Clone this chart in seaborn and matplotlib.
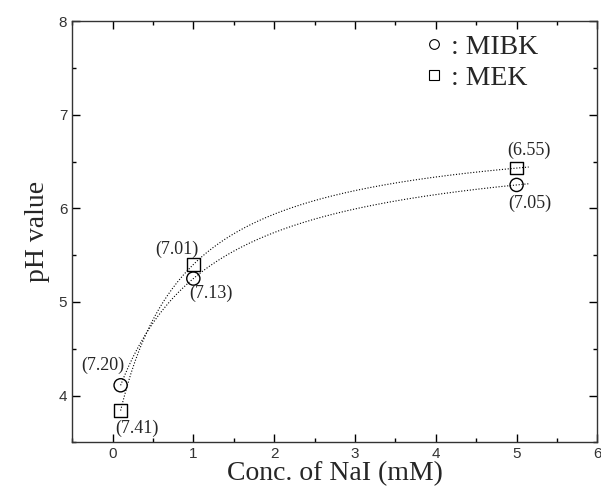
import numpy as np
import pandas as pd
import matplotlib
matplotlib.use("Agg")
import matplotlib.pyplot as plt
import seaborn as sns
from matplotlib.ticker import MultipleLocator
from matplotlib.lines import Line2D

conc = [0.1, 1.0, 5.0]
ph_mibk = [4.11, 5.25, 6.25]
ph_mek = [3.84, 5.40, 6.43]
labels_mibk = ["(7.20)", "(7.13)", "(7.05)"]
labels_mek = ["(7.41)", "(7.01)", "(6.55)"]

sns.set_theme(style="ticks")
plt.rcParams['font.family'] = ['Liberation Sans', 'DejaVu Sans']

def hyper_fit(x, y):
    # y = y0 + a*x/(c+x), exact through three points; solve c by bisection
    x = np.asarray(x); y = np.asarray(y)
    target = (y[2] - y[1]) / (y[1] - y[0])
    def g(c):
        f = x / (c + x)
        return (f[2] - f[1]) / (f[1] - f[0]) - target
    lo, hi = 0.01, 50.0
    for _ in range(200):
        mid = 0.5 * (lo + hi)
        if g(lo) * g(mid) <= 0:
            hi = mid
        else:
            lo = mid
    c = 0.5 * (lo + hi)
    f = x / (c + x)
    a = (y[1] - y[0]) / (f[1] - f[0])
    y0 = y[0] - a * f[0]
    return lambda t: y0 + a * t / (c + t)

xs = np.linspace(0.1, 5.15, 200)
f_mibk = hyper_fit(conc, ph_mibk)
f_mek = hyper_fit(conc, ph_mek)

fig, ax = plt.subplots(figsize=(6.01, 4.91), dpi=100)
fig.subplots_adjust(left=0.12, right=0.994, top=0.957, bottom=0.099)

for f in (f_mibk, f_mek):
    sns.lineplot(x=xs, y=f(xs), ax=ax, color="black", lw=0.8,
                 linestyle=(0, (1, 1.6)))

df1 = pd.DataFrame({"x": conc, "y": ph_mibk})
df2 = pd.DataFrame({"x": conc, "y": ph_mek})
sns.scatterplot(data=df1, x="x", y="y", ax=ax, marker="o", s=90,
                facecolor="none", edgecolor="black", linewidth=1.0, zorder=3)
sns.scatterplot(data=df2, x="x", y="y", ax=ax, marker="s", s=80,
                facecolor="none", edgecolor="black", linewidth=1.0, zorder=3)

serif = ['Liberation Serif', 'DejaVu Serif']
fs = 13
# annotations
ax.text(conc[0] - 0.22, ph_mibk[0] + 0.12, labels_mibk[0], family=serif, fontsize=fs, ha="center", va="bottom")
ax.text(conc[0] + 0.2, ph_mek[0] - 0.1, labels_mek[0], family=serif, fontsize=fs, ha="center", va="top")
ax.text(conc[1] - 0.2, ph_mek[1] + 0.07, labels_mek[1], family=serif, fontsize=fs, ha="center", va="bottom")
ax.text(conc[1] + 0.22, ph_mibk[1] - 0.07, labels_mibk[1], family=serif, fontsize=fs, ha="center", va="top")
ax.text(conc[2] + 0.15, ph_mek[2] + 0.1, labels_mek[2], family=serif, fontsize=fs, ha="center", va="bottom")
ax.text(conc[2] + 0.16, ph_mibk[2] - 0.1, labels_mibk[2], family=serif, fontsize=fs, ha="center", va="top")

ax.set_xlim(-0.5, 6)
ax.set_ylim(3.5, 8)
ax.xaxis.set_major_locator(MultipleLocator(1))
ax.xaxis.set_minor_locator(MultipleLocator(0.5))
ax.yaxis.set_major_locator(MultipleLocator(1))
ax.yaxis.set_minor_locator(MultipleLocator(0.5))
ax.tick_params(which="both", direction="in", top=True, right=True, colors="black", width=1.0)
ax.tick_params(which="major", length=6, labelsize=11, labelcolor="#333333")
ax.tick_params(which="minor", length=3)
for s in ax.spines.values():
    s.set_linewidth(1.0)
    s.set_color("#333333")

ax.set_xlabel("Conc. of NaI (mM)", family=serif, fontsize=20, labelpad=0)
ax.set_ylabel("pH value", family=serif, fontsize=20, labelpad=6)

handles = [Line2D([], [], marker="o", ls="none", mfc="none", mec="black", ms=7, mew=0.8),
           Line2D([], [], marker="s", ls="none", mfc="none", mec="black", ms=7, mew=0.8)]
leg = ax.legend(handles, [": MIBK", ": MEK"], loc="upper right", frameon=False,
                prop={"family": "Liberation Serif", "size": 20},
                handletextpad=0.0, handlelength=1.2, labelspacing=0.2,
                bbox_to_anchor=(0.935, 1.028))

fig.savefig("out.png", dpi=100)
